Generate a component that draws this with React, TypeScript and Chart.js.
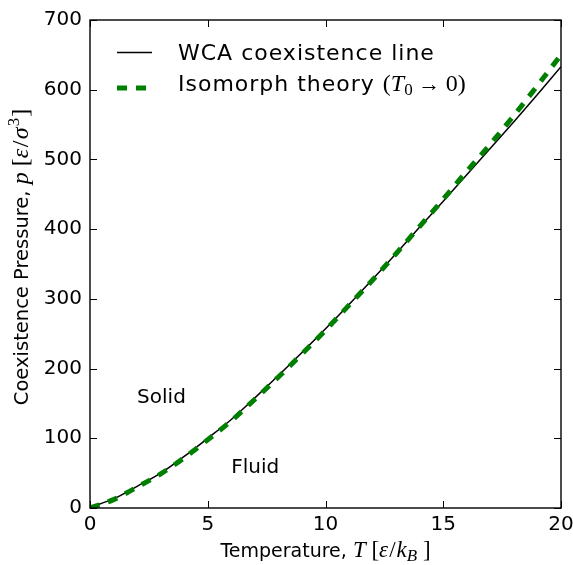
import React, { useEffect, useRef } from "react";
import { Chart, registerables } from "chart.js";

Chart.register(...registerables);

// ---- data ----
const temperatures = [0, 1, 2, 3, 4, 5, 6, 7, 8, 9, 10, 11, 12, 13, 14, 15, 16, 17, 18, 19, 20];
const wcaPressure = [1, 13, 31, 50, 74, 100, 127, 158, 190, 223, 257, 292, 328, 365, 403, 440, 478, 516, 554, 593, 633];
const isomorphPressure = [0, 12, 30, 49, 72, 98, 125, 156, 188, 221, 255, 291, 327, 365, 404, 443, 483, 522, 563, 606, 650];
const xTicks = [0, 5, 10, 15, 20];
const yTicks = [0, 100, 200, 300, 400, 500, 600, 700];
const regionLabels = ["Solid", "Fluid"];
const regionLabelT = [2, 6];
const regionLabelP = [150, 50];

const SANS = "'DejaVu Sans'";
const SERIF = "'Liberation Serif'";
const BLACK = "#000000";
const GREEN = "#008000";

type Seg = { t: string; f: string; dy?: number; ls?: number };

function segWidth(ctx: CanvasRenderingContext2D, s: Seg) {
  ctx.font = s.f;
  (ctx as any).letterSpacing = `${s.ls || 0}px`;
  return ctx.measureText(s.t).width;
}

function drawRich(ctx: CanvasRenderingContext2D, segs: Seg[], x: number, y: number, align: "left" | "center") {
  let total = 0;
  for (const s of segs) total += segWidth(ctx, s);
  let cx = align === "center" ? x - total / 2 : x;
  ctx.textAlign = "left";
  ctx.textBaseline = "alphabetic";
  for (const s of segs) {
    const w = segWidth(ctx, s);
    ctx.fillText(s.t, cx, y + (s.dy || 0));
    cx += w;
  }
  (ctx as any).letterSpacing = "0px";
}

const overlayPlugin = {
  id: "overlay",
  afterDraw(chart: any) {
    const { ctx, chartArea: a, scales } = chart;
    const xs = scales.x;
    const ys = scales.y;
    ctx.save();
    ctx.strokeStyle = BLACK;
    ctx.fillStyle = BLACK;
    ctx.lineWidth = 1;
    const tl = 7;
    ctx.beginPath();
    for (const v of xTicks) {
      const px = Math.round(xs.getPixelForValue(v)) + 0.5;
      ctx.moveTo(px, a.bottom);
      ctx.lineTo(px, a.bottom - tl);
      ctx.moveTo(px, a.top);
      ctx.lineTo(px, a.top + tl);
    }
    for (const v of yTicks) {
      const py = Math.round(ys.getPixelForValue(v)) + 0.5;
      ctx.moveTo(a.left, py);
      ctx.lineTo(a.left + tl, py);
      ctx.moveTo(a.right, py);
      ctx.lineTo(a.right - tl, py);
    }
    ctx.stroke();
    ctx.lineWidth = 1.4;
    ctx.strokeRect(a.left, a.top, a.right - a.left, a.bottom - a.top);

    // region labels
    ctx.font = `20px ${SANS}`;
    ctx.textAlign = "left";
    ctx.textBaseline = "alphabetic";
    regionLabels.forEach((lbl, i) => {
      ctx.fillText(lbl, xs.getPixelForValue(regionLabelT[i]), ys.getPixelForValue(regionLabelP[i]));
    });

    // legend
    const lx0 = a.left + 27;
    const lx1 = a.left + 62;
    const tx = a.left + 88;
    ctx.lineWidth = 1.5;
    ctx.strokeStyle = BLACK;
    ctx.beginPath();
    ctx.moveTo(lx0, a.top + 32.5);
    ctx.lineTo(lx1, a.top + 32.5);
    ctx.stroke();
    ctx.lineWidth = 5;
    ctx.strokeStyle = GREEN;
    ctx.setLineDash([10, 9]);
    ctx.beginPath();
    ctx.moveTo(lx0, a.top + 68);
    ctx.lineTo(lx1 - 4, a.top + 68);
    ctx.stroke();
    ctx.setLineDash([]);
    ctx.fillStyle = BLACK;
    drawRich(ctx, [{ t: "WCA coexistence line", f: `22px ${SANS}`, ls: 1 }], tx, a.top + 40, "left");
    drawRich(
      ctx,
      [
        { t: "Isomorph theory ", f: `22px ${SANS}`, ls: 1 },
        { t: "(", f: `24px ${SERIF}` },
        { t: "T", f: `italic 24px ${SERIF}` },
        { t: "0", f: `17px ${SERIF}`, dy: 4 },
        { t: " \u2192 ", f: `22px ${SERIF}` },
        { t: "0)", f: `24px ${SERIF}` },
      ],
      tx,
      a.top + 71,
      "left"
    );

    // axis titles
    const xTitle: Seg[] = [
      { t: "Temperature, ", f: `19px ${SANS}` },
      { t: "T", f: `italic 23px ${SERIF}` },
      { t: " [", f: `23px ${SERIF}` },
      { t: "\u03b5", f: `italic 23px ${SERIF}`, ls: 1 },
      { t: "/", f: `23px ${SERIF}`, ls: 1 },
      { t: "k", f: `italic 23px ${SERIF}` },
      { t: "B", f: `italic 17px ${SERIF}`, dy: 4 },
      { t: " ]", f: `23px ${SERIF}` },
    ];
    drawRich(ctx, xTitle, (a.left + a.right) / 2, 557, "center");

    const yTitle: Seg[] = [
      { t: "Coexistence Pressure, ", f: `19.5px ${SANS}` },
      { t: "p", f: `italic 24px ${SERIF}` },
      { t: " [", f: `24px ${SERIF}` },
      { t: "\u03b5", f: `italic 24px ${SERIF}`, ls: 1.5 },
      { t: "/", f: `24px ${SERIF}`, ls: 1.5 },
      { t: "\u03c3", f: `italic 24px ${SERIF}`, ls: 1 },
      { t: "3", f: `17px ${SERIF}`, dy: -9, ls: 1 },
      { t: "]", f: `24px ${SERIF}` },
    ];
    ctx.save();
    ctx.translate(28, 257);
    ctx.rotate(-Math.PI / 2);
    drawRich(ctx, yTitle, 0, 0, "center");
    ctx.restore();

    ctx.restore();
  },
};

export default function App() {
  const canvasRef = useRef<HTMLCanvasElement | null>(null);

  useEffect(() => {
    const canvas = canvasRef.current;
    if (!canvas) return;
    const chart = new Chart(canvas, {
      type: "line",
      data: {
        datasets: [
          {
            label: "WCA coexistence line",
            data: temperatures.map((t, i) => ({ x: t, y: wcaPressure[i] })),
            borderColor: BLACK,
            borderWidth: 1.5,
            pointRadius: 0,
            fill: false,
            cubicInterpolationMode: "monotone",
            order: 2,
          },
          {
            label: "Isomorph theory (T0 → 0)",
            data: temperatures.map((t, i) => ({ x: t, y: isomorphPressure[i] })),
            borderColor: GREEN,
            borderWidth: 5,
            borderDash: [10, 9],
            pointRadius: 0,
            fill: false,
            cubicInterpolationMode: "monotone",
            order: 1,
          },
        ],
      },
      options: {
        animation: false,
        responsive: false,
        devicePixelRatio: 1,
        layout: { padding: { top: 20, right: 12, left: 0, bottom: 0 } },
        plugins: {
          legend: { display: false },
          tooltip: { enabled: false },
        },
        scales: {
          x: {
            type: "linear",
            min: 0,
            max: 20,
            afterFit: (s: any) => {
              s.height = 57;
              s.paddingLeft = 0;
              s.paddingRight = 0;
            },
            afterBuildTicks: (s: any) => {
              s.ticks = xTicks.map((v) => ({ value: v }));
            },
            grid: { display: false, drawTicks: false },
            border: { display: false },
            ticks: {
              color: BLACK,
              font: { family: "DejaVu Sans", size: 20 },
              padding: 5,
              maxRotation: 0,
            },
          },
          y: {
            type: "linear",
            min: 0,
            max: 700,
            afterFit: (s: any) => {
              s.width = 90;
              s.paddingTop = 0;
              s.paddingBottom = 0;
            },
            afterBuildTicks: (s: any) => {
              s.ticks = yTicks.map((v) => ({ value: v }));
            },
            grid: { display: false, drawTicks: false },
            border: { display: false },
            ticks: {
              color: BLACK,
              font: { family: "DejaVu Sans", size: 20 },
              padding: 8,
            },
          },
        },
      },
      plugins: [overlayPlugin],
    });
    return () => chart.destroy();
  }, []);

  return (
    <div style={{ position: "absolute", left: 0, top: 0, width: 573, height: 565, background: "#fff" }}>
      <canvas ref={canvasRef} width={573} height={565} style={{ display: "block" }} />
    </div>
  );
}
